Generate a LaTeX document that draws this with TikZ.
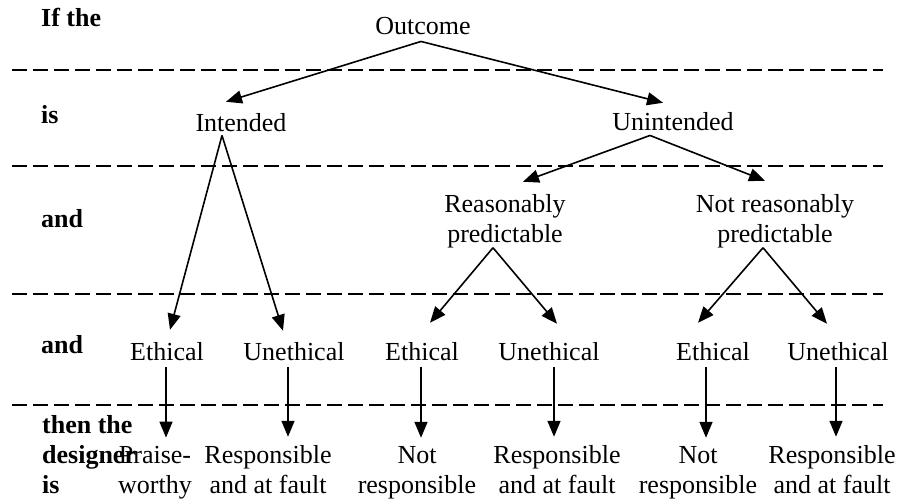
\documentclass[tikz,border=0pt]{standalone}
\usepackage{fontspec}
\setmainfont{Liberation Serif}
\usetikzlibrary{arrows.meta, calc}

\begin{document}
\begin{tikzpicture}[x=1pt, y=-1pt,
  lbl/.style={font=\fontsize{26}{30}\selectfont, inner sep=0pt, anchor=base, align=center},
  side/.style={font=\fontsize{26}{30}\selectfont\bfseries, inner sep=0pt, anchor=base west, align=left},
  sep/.style={line width=1.7pt, dash pattern=on 15pt off 6pt},
  arr/.style={line width=1.6pt, -{Triangle[length=16pt, width=13pt]}}]
\useasboundingbox (0, 0) rectangle (899, 503);
% row labels
\node [side] (ifthe) at (41, 27) {If the};
\node [side] (is) at (41, 123) {is};
\node [side] (and1) at (41, 227) {and};
\node [side] (and2) at (41, 353) {and};
\node [side] (then) at (42, 493) {then the\\designer\\is};
% separators
\foreach \y in {70, 166, 294, 405}
  \draw [sep](12, \y) -- (883, \y);
% tree
\node [lbl] (out) at (423, 35) {Outcome};
\node [lbl] (int) at (241, 131) {Intended};
\node [lbl] (unint) at (673, 130) {Unintended};
\node [lbl] (rp) at (505, 242) {Reasonably\\predictable};
\node [lbl] (nrp) at (775, 242) {Not reasonably\\predictable};
\node [lbl] (e1) at (167, 360) {Ethical};
\node [lbl] (u1) at (294, 360) {Unethical};
\node [lbl] (e2) at (422, 360) {Ethical};
\node [lbl] (u2) at (549, 360) {Unethical};
\node [lbl] (e3) at (713, 360) {Ethical};
\node [lbl] (u3) at (838, 360) {Unethical};
% verdicts
\node [lbl] (pw) at (155, 493) {Praise-\\worthy};
\node [lbl] (r1) at (268, 493) {Responsible\\and at fault};
\node [lbl] (n1) at (417, 493) {Not\\responsible};
\node [lbl] (r2) at (557, 493) {Responsible\\and at fault};
\node [lbl] (n2) at (698, 493) {Not\\responsible};
\node [lbl] (r3) at (832, 493) {Responsible\\and at fault};
% branches
\draw [arr]($(out.south)+(-2, 6)$) -- ($(int.north)+(-15, -11)$);
\draw [arr]($(out.south)+(-2, 6)$) -- ($(unint.north)+(-10, -9)$);
\draw [arr]($(int.south)+(-19, 4)$) -- ($(e1.north)+(3, -12)$);
\draw [arr]($(int.south)+(-19, 4)$) -- ($(u1.north)+(-11, -11)$);
\draw [arr]($(unint.south)+(-23, 5)$) -- ($(rp.north)+(18, -12)$);
\draw [arr]($(unint.south)+(-23, 5)$) -- ($(nrp.north)+(-10, -13)$);
\draw [arr]($(rp.south)+(-12, 0)$) -- ($(e2.north)+(8, -19)$);
\draw [arr]($(rp.south)+(-12, 0)$) -- ($(u2.north)+(8, -18)$);
\draw [arr]($(nrp.south)+(-12, 0)$) -- ($(e3.north)+(-15, -19)$);
\draw [arr]($(nrp.south)+(-12, 0)$) -- ($(u3.north)+(-11, -18)$);
% down to the verdicts
\draw [arr]($(e1.south)+(-1, 7)$) -- ($(e1.south |- pw.north)+(-1, -8)$);
\draw [arr]($(u1.south)+(-6, 7)$) -- ($(u1.south |- r1.north)+(-6, -8)$);
\draw [arr]($(e2.south)+(-1, 7)$) -- ($(e2.south |- n1.north)+(-1, -8)$);
\draw [arr]($(u2.south)+(5, 7)$) -- ($(u2.south |- r2.north)+(5, -8)$);
\draw [arr]($(e3.south)+(-7, 7)$) -- ($(e3.south |- n2.north)+(-7, -8)$);
\draw [arr]($(u3.south)+(-2, 7)$) -- ($(u3.south |- r3.north)+(-2, -8)$);
\end{tikzpicture}
\end{document}
